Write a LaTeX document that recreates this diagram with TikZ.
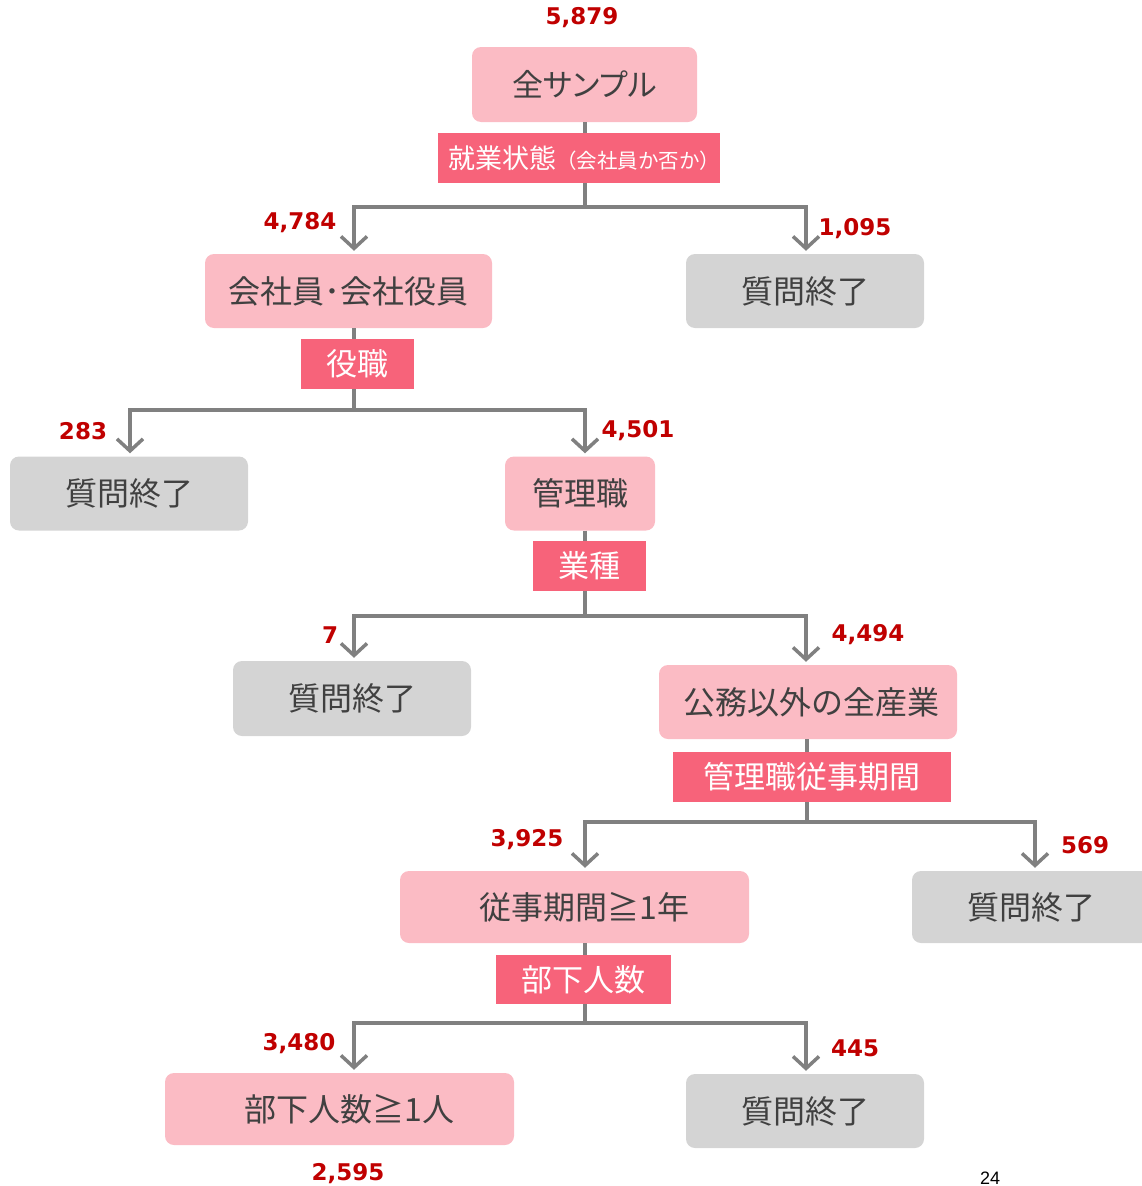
\documentclass[tikz,border=0pt]{standalone}
\usepackage{fontspec}
\usepackage{tikz}
\usetikzlibrary{arrows.meta, positioning}
\newfontfamily\jp{Noto Sans CJK JP}
\newfontfamily\jpp{Noto Sans CJK JP}[RawFeature=+palt]
\newfontfamily\numfont{DejaVu Sans}
\newfontfamily\pgfont{Liberation Sans}
\definecolor{boxpink}{RGB}{251,187,196}
\definecolor{boxgray}{RGB}{212,212,212}
\definecolor{labred}{RGB}{247,99,122}
\definecolor{txtgray}{RGB}{64,64,64}
\definecolor{numred}{RGB}{192,0,0}
\definecolor{linegray}{RGB}{128,128,128}
\tikzset{
  pbox/.style={fill=boxpink, rounded corners=9pt, text=txtgray, inner sep=0pt,
    font=\jp\fontsize{32}{38}\selectfont},
  gbox/.style={pbox, fill=boxgray},
  lab/.style={fill=labred, text=white, inner sep=0pt, minimum height=50pt,
    font=\jp\fontsize{31}{36}\selectfont},
  num/.style={text=numred, font=\numfont\bfseries\fontsize{23}{27}\selectfont},
  conn/.style={draw=linegray, line width=3.5pt},
  arr/.style={conn, shorten >=3pt, -{Straight Barb[length=12pt,width=26pt]}}
}
\begin{document}
\begin{tikzpicture}[x=1pt,y=-1pt]
\useasboundingbox (0,0) rectangle (1141,1186);

% boxes
\node[pbox, font=\jpp\fontsize{31}{36}\selectfont, minimum width=225pt, minimum height=75pt] (all) at (584.5,84.5) {全サンプル};
\node[pbox, minimum width=287pt, minimum height=74pt] (emp) at (348.5,291) {会社員･会社役員};
\node[gbox, minimum width=238pt, minimum height=74pt] (end1) at (805,291) {質問終了};
\node[gbox, minimum width=238pt, minimum height=74pt] (end2) at (129,493.5) {質問終了};
\node[pbox, minimum width=150pt, minimum height=74pt] (mgr) at (580,493.5) {管理職};
\node[gbox, minimum width=238pt, minimum height=75pt] (end3) at (352,698.5) {質問終了};
\node[pbox, minimum width=298pt, minimum height=74pt] (ind) at (808,702) {\hspace*{6pt}公務以外の全産業};
\node[pbox, minimum width=349pt, minimum height=72pt] (yr) at (574.5,907) {\hspace*{20pt}従事期間≧1年};
\node[gbox, minimum width=238pt, minimum height=72pt] (end4) at (1031,907) {質問終了};
\node[pbox, minimum width=349pt, minimum height=72pt] (sub) at (339.5,1109) {\hspace*{20pt}部下人数≧1人};
\node[gbox, minimum width=238pt, minimum height=74pt] (end5) at (805,1111) {質問終了};

% branch points
\coordinate (bar1) at (585,207);
\coordinate (bar2) at (354,410);
\coordinate (bar3) at (585,616);
\coordinate (bar4) at (807,822);
\coordinate (bar5) at (585,1023);

% connectors
\draw[conn] (all.south -| bar1) -- (bar1);
\draw[arr] (bar1) -| ([xshift=5.5pt]emp.north);
\draw[arr] (bar1) -| ([xshift=1pt]end1.north);
\draw[conn] (emp.south -| bar2) -- (bar2);
\draw[arr] (bar2) -| ([xshift=1pt]end2.north);
\draw[arr] (bar2) -| ([xshift=5pt]mgr.north);
\draw[conn] (mgr.south -| bar3) -- (bar3);
\draw[arr] (bar3) -| ([xshift=2pt]end3.north);
\draw[arr] (bar3) -| ([xshift=-2pt]ind.north);
\draw[conn] (ind.south -| bar4) -- (bar4);
\draw[arr] (bar4) -| ([xshift=10.5pt]yr.north);
\draw[arr] (bar4) -| ([xshift=4pt]end4.north);
\draw[conn] (yr.south -| bar5) -- (bar5);
\draw[arr] (bar5) -| ([xshift=14.5pt]sub.north);
\draw[arr] (bar5) -| ([xshift=1pt]end5.north);

% question labels
\node[lab, text width=282pt, align=right] (q1) at (579,158)
  {\fontsize{27}{30}\selectfont 就業状態\fontsize{20.5}{24}\selectfont（会社員か否か）};
\node[lab, minimum width=113pt] (q2) at (357.5,364) {役職};
\node[lab, minimum width=113pt] (q3) at (589.5,566) {業種};
\node[lab, minimum width=278pt] (q4) at (812,777) {管理職従事期間};
\node[lab, minimum width=175pt, minimum height=49pt] (q5) at (583.5,979.5) {部下人数};

% counts
\node[num] (n0) at (582,18) {5,879};
\node[num] (n1) at (300,223) {4,784};
\node[num] (n2) at (855,229) {1,095};
\node[num] (n3) at (83,431) {283};
\node[num] (n4) at (638,431) {4,501};
\node[num] (n5) at (330,635) {7};
\node[num] (n6) at (868,635) {4,494};
\node[num] (n7) at (527,840) {3,925};
\node[num] (n8) at (1085,845) {569};
\node[num] (n9) at (299,1044) {3,480};
\node[num] (n10) at (855,1048) {445};
\node[num] (n11) at (348,1174) {2,595};

\node[font=\pgfont\fontsize{18}{22}\selectfont] (pg) at (990,1178) {24};
\end{tikzpicture}
\end{document}
